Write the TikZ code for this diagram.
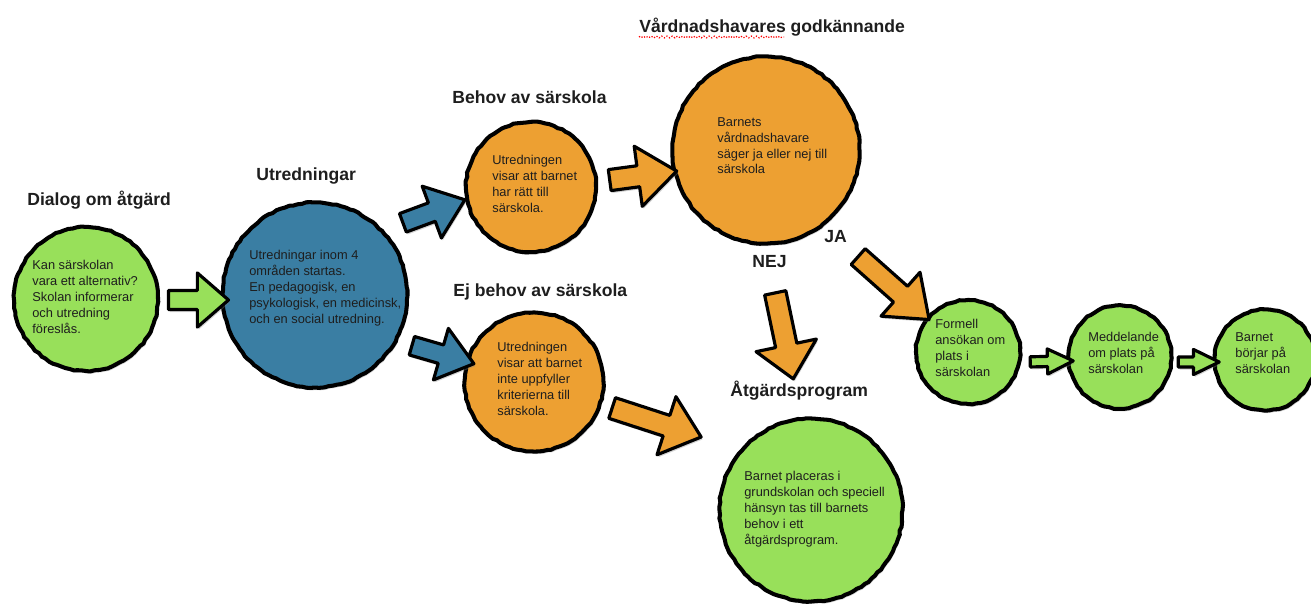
\documentclass[tikz,border=0pt]{standalone}
\usepackage{fontspec}
\setmainfont{Liberation Sans}
\usetikzlibrary{shapes.arrows,shadows,calc,decorations.pathmorphing}
\definecolor{cgreen}{HTML}{98E05A}
\definecolor{corange}{HTML}{EDA032}
\definecolor{cblue}{HTML}{3A7EA3}
\definecolor{ctext}{HTML}{1E1E1E}
% #1 from, #2 to, #3 colour, #4 shaft width, #5 head extend, #6 tip angle, #7 name
\newcommand\blockarrow[7]{%
  \path let \p1=($(#2)-(#1)$), \n1={atan2(\y1,\x1)}, \n2={veclen(\x1,\y1)} in
    node[blk, fill=#3, minimum height=\n2, text height=#4, text depth=0pt,
         single arrow head extend=#5,
         single arrow tip angle=#6, rotate=\n1] (#7) at ($(#1)!0.5!(#2)$) {};}
\begin{document}
\pgfmathsetseed{11}
\begin{tikzpicture}[x=0.02cm, y=-0.02cm,
  bub/.style={circle, draw=black, line width=2.3pt, inner sep=0pt,
    decorate, decoration={random steps, segment length=2.5pt, amplitude=0.35pt},
    drop shadow={opacity=0.35, shadow xshift=0.8pt, shadow yshift=-1.4pt},
    postaction={draw=black, line width=0.7pt, decorate,
      decoration={random steps, segment length=3.5pt, amplitude=0.9pt}}},
  blk/.style={single arrow, draw=black, line width=1.8pt, inner sep=0pt,
    minimum width=0pt, line join=round,
    drop shadow={opacity=0.35, shadow xshift=0.8pt, shadow yshift=-1.4pt}},
  body/.style={font=\fontsize{7.3}{9.07}\selectfont, text=ctext, align=left,
    anchor=north west, inner sep=0pt},
  ttl/.style={font=\bfseries\fontsize{10}{12}\selectfont, text=ctext,
    anchor=base west, inner sep=0pt}]
\useasboundingbox (0,0) rectangle (1311,604);

% circles
\node[bub, fill=cgreen,  minimum size=2.88cm] (c1) at (86,299) {};
\node[bub, fill=cblue,   minimum size=3.70cm] (c2) at (315,295) {};
\node[bub, fill=corange, minimum size=2.60cm] (c3) at (531,187) {};
\node[bub, fill=corange, minimum size=3.74cm] (c4) at (766,150) {};
\node[bub, fill=corange, minimum size=2.78cm] (c5) at (534,382) {};
\node[bub, fill=cgreen,  minimum size=3.66cm] (c6) at (811,510) {};
\node[bub, fill=cgreen,  minimum size=2.08cm] (c7) at (968,352) {};
\node[bub, fill=cgreen,  minimum size=2.06cm] (c8) at (1120,357) {};
\node[bub, fill=cgreen,  minimum size=2.02cm] (c9) at (1265,360) {};

% arrow end points
\coordinate (a1s) at (163,300);  \coordinate (a1e) at (223,300);
\coordinate (a2s) at (397,225);  \coordinate (a2e) at (459,202);
\coordinate (a3s) at (406,344);  \coordinate (a3e) at (468,362);
\coordinate (a4s) at (603,181);  \coordinate (a4e) at (670,172);
\coordinate (a5s) at (606,406);  \coordinate (a5e) at (695,435);
\coordinate (a6s) at (774,287);  \coordinate (a6e) at (792,373);
\coordinate (a7s) at (853,252);  \coordinate (a7e) at (924,315);
\coordinate (a8s) at (1025,362); \coordinate (a8e) at (1068,361);
\coordinate (a9s) at (1173,362); \coordinate (a9e) at (1214,362);

\blockarrow{a1s}{a1e}{cgreen}{0.32cm}{0.35cm}{82}{ar1}
\blockarrow{a2s}{a2e}{cblue}{0.33cm}{0.355cm}{76}{ar2}
\blockarrow{a3s}{a3e}{cblue}{0.32cm}{0.345cm}{76}{ar3}
\blockarrow{a4s}{a4e}{corange}{0.36cm}{0.395cm}{76}{ar4}
\blockarrow{a5s}{a5e}{corange}{0.37cm}{0.395cm}{80}{ar5}
\blockarrow{a6s}{a6e}{corange}{0.37cm}{0.40cm}{84}{ar6}
\blockarrow{a7s}{a7e}{corange}{0.36cm}{0.375cm}{75}{ar7}
\blockarrow{a8s}{a8e}{cgreen}{0.14cm}{0.15cm}{52}{ar8}
\blockarrow{a9s}{a9e}{cgreen}{0.14cm}{0.15cm}{52}{ar9}

% titles
\node[ttl] (t1) at (27,206) {Dialog om åtgärd};
\node[ttl] (t2) at (256,181) {Utredningar};
\node[ttl] (t3) at (452,104) {Behov av särskola};
\node[ttl] (t4) at (639,33) {Vårdnadshavares godkännande};
\node[ttl] (t5) at (453,297) {Ej behov av särskola};
\node[ttl] (t6) at (752,268) {NEJ};
\node[ttl] (t7) at (824,243) {JA};
\node[ttl] (t8) at (730,397) {Åtgärdsprogram};
\coordinate (sq1) at (639,37); \coordinate (sq2) at (784,37);
\draw[red, line width=0.7pt, densely dotted, decorate,
  decoration={snake, amplitude=0.5pt, segment length=3pt}] (sq1) -- (sq2);

% body texts
\node[body] (b1) at (32,260) {Kan särskolan\\vara ett alternativ?\\Skolan informerar\\och utredning\\föreslås.};
\node[body] (b2) at (249,250) {Utredningar inom 4\\områden startas.\\En pedagogisk, en\\psykologisk, en medicinsk,\\och en social utredning.};
\node[body] (b3) at (492,155) {Utredningen\\visar att barnet\\har rätt till\\särskola.};
\node[body] (b4) at (717,117) {Barnets\\vårdnadshavare\\säger ja eller nej till\\särskola};
\node[body] (b5) at (497,342) {Utredningen\\visar att barnet\\inte uppfyller\\kriterierna till\\särskola.};
\node[body] (b6) at (744,471) {Barnet placeras i\\grundskolan och speciell\\hänsyn tas till barnets\\behov i ett\\åtgärdsprogram.};
\node[body] (b7) at (935,319) {Formell\\ansökan om\\plats i\\särskolan};
\node[body] (b8) at (1088,332) {Meddelande\\om plats på\\särskolan};
\node[body] (b9) at (1235,332) {Barnet\\börjar på\\särskolan};
\end{tikzpicture}
\end{document}
